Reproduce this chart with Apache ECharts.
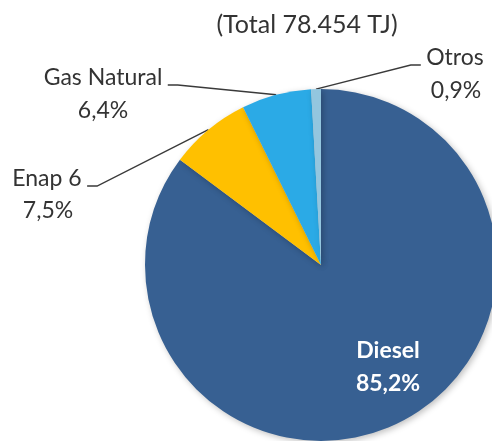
<!DOCTYPE html>
<html>
<head>
<meta charset="utf-8">
<script src="https://cdn.jsdelivr.net/npm/echarts@6/dist/echarts.min.js"></script>
<style>
html,body{margin:0;padding:0;background:#fff;}
#chart{width:492px;height:441px;}
</style>
</head>
<body>
<div id="chart"></div>
<script>
// Data
var categories = ['Diesel', 'Enap 6', 'Gas Natural', 'Otros'];
var values = [85.2, 7.5, 6.4, 0.9];
var percentLabels = ['85,2%', '7,5%', '6,4%', '0,9%'];
var titleText = '(Total 78.454 TJ)';

// Styling / layout (not data)
var colors = ['#376092', '#FFC000', '#2BAAE6', '#93C6DF'];
var nameCenters = [[388, 367], [47, 179], [103, 78], [455, 58]];
var pctCenters = [[388, 367], [48, 211], [103, 111], [456, 91]];
var spacerHeight = 14;

var chart = echarts.init(document.getElementById('chart'), null, {renderer: 'canvas'});

var pieCenter = [321, 265];
var pieRadius = [0, 176];

var mainData = categories.map(function (name, i) {
  var item = {name: name, value: values[i], itemStyle: {color: colors[i]}};
  if (i === 0) {
    item.label = {color: '#ffffff', fontWeight: 'bold', fontSize: 23, lineHeight: 33};
    item.labelLine = {show: false};
  }
  return item;
});

var pctData = categories.map(function (name, i) {
  var item = {name: name, value: values[i]};
  if (i === 0) {
    item.label = {show: false};
  }
  return item;
});

chart.setOption({
  animation: false,
  title: {
    text: titleText,
    left: 302,
    top: 7,
    textAlign: 'center',
    textStyle: {
      fontFamily: 'Lato',
      fontSize: 25,
      fontWeight: 'normal',
      color: '#333333'
    }
  },
  series: [{
    type: 'pie',
    center: pieCenter,
    radius: pieRadius,
    startAngle: 90,
    clockwise: true,
    avoidLabelOverlap: false,
    itemStyle: {
      borderWidth: 0,
      shadowBlur: 6,
      shadowColor: 'rgba(0,0,0,0.25)',
      shadowOffsetX: 2,
      shadowOffsetY: 2
    },
    label: {
      show: true,
      position: 'outside',
      fontFamily: 'Lato',
      fontSize: 23,
      lineHeight: 33,
      color: '#333333',
      align: 'center',
      formatter: function (p) {
        if (p.dataIndex === 0) {
          return p.name + '\n' + percentLabels[0];
        }
        return '{g| }{n|' + p.name + '}{g| }\n{s| }';
      },
      rich: {
        n: {fontFamily: 'Lato', fontSize: 23, lineHeight: 33, color: '#333333'},
        g: {width: 5, fontSize: 23, lineHeight: 33},
        s: {fontSize: 10, lineHeight: spacerHeight}
      }
    },
    labelLine: {
      show: true,
      length: 10,
      length2: 10,
      lineStyle: {color: '#3a3a3a', width: 1.4}
    },
    labelLayout: function (p) {
      var c = nameCenters[p.dataIndex];
      var dy = p.dataIndex === 0 ? 0 : spacerHeight / 2;
      return {x: c[0], y: c[1] + dy, align: 'center', verticalAlign: 'middle'};
    },
    data: mainData
  }, {
    type: 'pie',
    center: pieCenter,
    radius: pieRadius,
    startAngle: 90,
    clockwise: true,
    silent: true,
    avoidLabelOverlap: false,
    z: 1,
    itemStyle: {color: 'rgba(0,0,0,0)', borderWidth: 0},
    label: {
      show: true,
      position: 'outside',
      fontFamily: 'Lato',
      fontSize: 23,
      color: '#333333',
      align: 'center',
      formatter: function (p) { return percentLabels[p.dataIndex]; }
    },
    labelLine: {show: false},
    labelLayout: function (p) {
      var c = pctCenters[p.dataIndex];
      return {x: c[0], y: c[1], align: 'center', verticalAlign: 'middle'};
    },
    data: pctData
  }]
});
</script>
</body>
</html>
